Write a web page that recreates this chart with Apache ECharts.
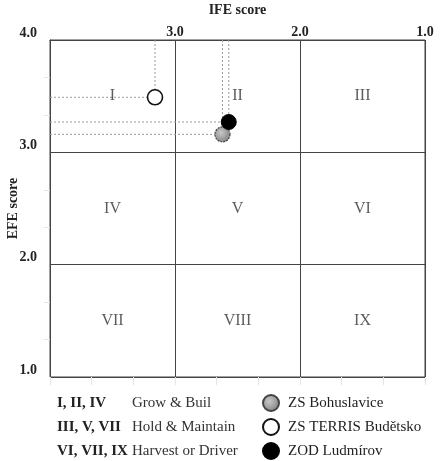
<!DOCTYPE html>
<html><head><meta charset="utf-8">
<script src="https://cdn.jsdelivr.net/npm/echarts@6/dist/echarts.min.js"></script>
<style>html,body{margin:0;padding:0;background:#fff}#c{width:445px;height:461px}</style>
</head><body><div id="c"></div>
<script>
// ---- data ----
var companies = ['ZS Bohuslavice', 'ZS TERRIS Budětsko', 'ZOD Ludmírov'];
var ifeScores = [2.62, 3.16, 2.57];
var efeScores = [3.16, 3.49, 3.27];
var regionLabels = [['I','II','III'],['IV','V','VI'],['VII','VIII','IX']];
var strategyGroups = ['I, II, IV', 'III, V, VII', 'VI, VII, IX'];
var strategyNames = ['Grow & Buil', 'Hold & Maintain', 'Harvest or Driver'];

var FONT = '"Liberation Serif", "DejaVu Serif", serif';
var styles = [
  {opacity:1, color: {type:'radial', x:0.4, y:0.4, r:0.7, colorStops:[{offset:0,color:'#c8c8c8'},{offset:1,color:'#7a7a7a'}]}, borderColor:'#444', borderWidth:1.2, borderType:[2,1]},
  {opacity:1, color:'#fff', borderColor:'#111', borderWidth:1.6},
  {opacity:1, color:'#000', borderColor:'#000', borderWidth:1}
];

var series = [];
for (var i = 0; i < companies.length; i++) {
  series.push({type:'line', silent:true, symbol:'none', z:1,
    lineStyle:{color:'#9a9a9a', width:1, type:[2,2]},
    data:[[ifeScores[i], 4], [ifeScores[i], efeScores[i]]]});
  series.push({type:'line', silent:true, symbol:'none', z:1,
    lineStyle:{color:'#9a9a9a', width:1, type:[2,2]},
    data:[[4, efeScores[i]], [ifeScores[i], efeScores[i]]]});
}
var regionData = [];
for (var r = 0; r < 3; r++) for (var c = 0; c < 3; c++)
  regionData.push({value:[3.5 - c, 3.5 - r], name: regionLabels[r][c]});
series.push({type:'scatter', symbolSize:0, silent:true, z:2, data:regionData,
  label:{show:true, position:'inside', formatter:function(p){return p.name;},
    fontFamily:FONT, fontSize:16, color:'#333'}});
for (var j = 0; j < companies.length; j++) {
  series.push({type:'scatter', name:companies[j], symbol:'circle', symbolSize:15, z:5,
    itemStyle:styles[j], data:[[ifeScores[j], efeScores[j]]]});
}

var fmt = function(v){ return Number(v).toFixed(1); };
var graphics = [];
for (var k = 0; k < strategyGroups.length; k++) {
  graphics.push({type:'text', left:57, top:396 + k*24,
    style:{text:strategyGroups[k], font:'bold 15px ' + FONT, fill:'#222'}});
  graphics.push({type:'text', left:132, top:396 + k*24,
    style:{text:strategyNames[k], font:'15px ' + FONT, fill:'#333'}});
}

var chart = echarts.init(document.getElementById('c'), null, {renderer:'canvas'});
chart.setOption({
  animation:false,
  grid:{left:50, right:20, top:40, bottom:84, show:true, borderColor:'#444', borderWidth:1,
    containLabel:false, outerBoundsMode:'none'},
  xAxis:[{type:'value', inverse:true, position:'top', min:1, max:4, interval:1,
    name:'IFE score', nameLocation:'middle', nameGap:23,
    nameTextStyle:{fontFamily:FONT, fontWeight:'bold', fontSize:14, color:'#222'},
    axisLine:{show:true, lineStyle:{color:'#444'}}, axisTick:{show:false},
    axisLabel:{margin:1, fontFamily:FONT, fontWeight:'bold', fontSize:14, color:'#222',
      formatter:function(v){ return v === 4 ? '' : fmt(v); }},
    splitLine:{show:true, lineStyle:{color:'#444', width:1}}},
   {type:'value', inverse:true, position:'bottom', min:1, max:4, interval:1,
    axisLine:{show:false}, axisLabel:{show:false}, splitLine:{show:false},
    axisTick:{show:true, length:8, lineStyle:{color:'#e6e6e6'}},
    minorTick:{show:true, splitNumber:3, length:8, lineStyle:{color:'#e6e6e6'}}}],
  yAxis:{type:'value', min:1, max:4, interval:1,
    name:'EFE score', nameLocation:'middle', nameGap:30, nameMoveOverlap:false,
    nameTextStyle:{fontFamily:FONT, fontWeight:'bold', fontSize:14, color:'#222'},
    axisLine:{show:true, lineStyle:{color:'#444'}}, axisTick:{show:false},
    minorTick:{show:true, splitNumber:3, length:6, lineStyle:{color:'#e6e6e6'}},
    axisLabel:{margin:13, fontFamily:FONT, fontWeight:'bold', fontSize:14, color:'#222',
      verticalAlign:'bottom', formatter:fmt},
    splitLine:{show:true, lineStyle:{color:'#444', width:1}}},
  legend:{data:companies, orient:'vertical', left:262, top:394, height:70, padding:0, itemGap:6,
    itemWidth:16, itemHeight:16, icon:'circle',
    textStyle:{fontFamily:FONT, fontSize:15, lineHeight:16, color:'#222', padding:[0,0,0,4]}},
  graphic:graphics,
  series:series
});
</script></body></html>
